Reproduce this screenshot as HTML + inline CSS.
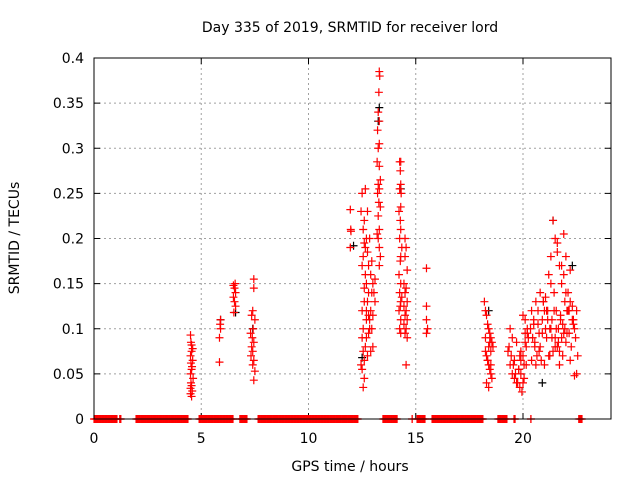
<!DOCTYPE html>
<html><head><meta charset="utf-8"><style>
body{margin:0;background:#fff}
svg{display:block;font-family:"DejaVu Sans","Liberation Sans",sans-serif}
</style></head><body>
<svg id="chart" width="640" height="480" viewBox="0 0 640 480" xmlns="http://www.w3.org/2000/svg">
<rect width="640" height="480" fill="#fff"/>
<text x="350" y="32" text-anchor="middle" font-size="14">Day 335 of 2019, SRMTID for receiver lord</text>
<text x="350" y="471" text-anchor="middle" font-size="14">GPS time / hours</text>
<text x="0" y="0" transform="translate(19,238) rotate(-90)" text-anchor="middle" font-size="14">SRMTID / TECUs</text>
<g id="grid"></g><g id="ticks"></g><g id="marks"></g>
<rect x="94" y="58" width="517" height="361" fill="none" stroke="#000" stroke-width="1"/>
</svg>
<script>
const xTicks=[0,5,10,15,20];
const yTicks=[0,0.05,0.1,0.15,0.2,0.25,0.3,0.35,0.4];
const yTickLabels=["0","0.05","0.1","0.15","0.2","0.25","0.3","0.35","0.4"];
const hours=[4.5,4.52,4.55,4.6,4.55,4.5,4.6,4.52,4.57,4.55,4.5,4.62,4.52,4.55,4.5,4.58,4.5,4.55,
5.85,5.85,5.9,5.88,5.9,
6.5,6.55,6.6,6.5,6.55,6.6,6.52,6.58,
7.45,7.45,7.4,7.35,7.5,7.42,7.3,7.38,7.45,7.35,7.4,7.32,7.45,7.4,7.5,7.45,
11.95,11.97,11.98,11.95,
12.5,12.5,12.45,12.5,12.55,12.55,12.6,12.6,12.65,12.5,12.55,12.6,12.65,12.7,12.75,12.8,12.7,12.75,12.8,12.85,12.7,12.65,12.75,12.6,12.55,12.7,12.8,12.9,12.9,12.95,13.0,12.9,12.6,12.65,12.75,12.85,12.95,13.0,13.05,13.1,13.0,12.45,12.5,12.55,12.7,12.85,12.6,12.8,12.95,13.1,
13.3,13.32,13.28,13.25,13.3,13.22,13.3,13.25,13.2,13.3,13.35,13.25,13.3,13.22,13.28,13.35,13.25,13.3,13.2,13.25,13.3,13.35,13.3,
14.25,14.3,14.28,14.3,14.25,14.32,14.3,14.22,14.28,14.3,14.25,14.35,14.3,14.28,14.22,14.3,14.25,14.35,14.3,14.28,14.22,14.3,14.25,14.3,
14.5,14.55,14.5,14.6,14.45,14.55,14.5,14.6,14.45,14.55,14.5,14.6,14.45,14.55,14.5,14.6,14.55,
15.5,15.5,15.5,15.55,15.5,
18.2,18.25,18.3,18.35,18.4,18.45,18.5,18.55,18.6,18.25,18.3,18.35,18.4,18.45,18.5,18.55,18.3,18.4,18.45,18.5,18.35,18.25,18.5,18.4,
19.3,19.4,19.5,19.6,19.7,19.8,19.9,20.0,20.1,20.2,19.35,19.45,19.55,19.65,19.75,19.85,19.95,20.05,20.15,20.25,19.4,19.6,19.8,19.9,20.0,20.1,20.2,19.7,19.9,20.05,20.15,19.5,19.85,20.0,20.1,
20.35,20.4,20.5,20.6,20.7,20.8,20.9,21.0,21.1,21.2,21.3,21.4,21.5,21.6,21.7,21.8,21.9,22.0,22.1,22.2,22.3,22.4,22.5,
20.45,20.55,20.65,20.75,20.85,20.95,21.05,21.15,21.25,21.35,21.45,21.55,21.65,21.75,21.85,21.95,22.05,22.15,22.25,22.35,22.45,22.55,
20.4,20.6,20.8,21.0,21.2,21.4,21.6,21.8,22.0,22.2,22.4,20.5,20.7,20.9,21.1,21.3,21.5,21.7,21.9,22.1,22.3,22.5,
20.55,20.75,20.95,21.15,21.35,21.55,21.75,21.95,22.15,22.35,21.05,21.25,21.45,21.65,21.85,22.05,21.5,21.7,21.9,21.3,21.6,21.8,22.0,22.2];
const tecValues=[0.093,0.085,0.082,0.078,0.075,0.07,0.065,0.062,0.058,0.055,0.05,0.045,0.04,0.037,0.034,0.031,0.028,0.025,
0.063,0.09,0.1,0.105,0.11,
0.148,0.145,0.14,0.135,0.13,0.125,0.118,0.15,
0.155,0.145,0.12,0.115,0.11,0.1,0.095,0.09,0.085,0.08,0.075,0.07,0.065,0.06,0.053,0.043,
0.232,0.21,0.208,0.19,
0.12,0.09,0.06,0.055,0.075,0.1,0.13,0.145,0.16,0.17,0.18,0.195,0.19,0.2,0.185,0.17,0.15,0.13,0.115,0.1,0.09,0.08,0.07,0.045,0.035,0.11,0.14,0.16,0.12,0.1,0.08,0.075,0.22,0.255,0.23,0.2,0.175,0.15,0.14,0.13,0.115,0.23,0.25,0.21,0.12,0.11,0.065,0.095,0.14,0.155,
0.385,0.38,0.362,0.34,0.33,0.32,0.305,0.3,0.285,0.28,0.265,0.26,0.255,0.25,0.24,0.235,0.225,0.21,0.205,0.2,0.19,0.18,0.17,
0.285,0.285,0.275,0.26,0.255,0.25,0.235,0.23,0.22,0.21,0.2,0.19,0.18,0.175,0.16,0.15,0.14,0.135,0.13,0.125,0.12,0.11,0.1,0.095,
0.2,0.19,0.18,0.165,0.15,0.145,0.14,0.13,0.125,0.12,0.115,0.11,0.105,0.1,0.095,0.09,0.06,
0.167,0.125,0.11,0.1,0.095,
0.13,0.12,0.115,0.105,0.1,0.095,0.09,0.085,0.08,0.075,0.07,0.065,0.06,0.055,0.05,0.045,0.04,0.035,0.085,0.075,0.065,0.09,0.06,0.08,
0.075,0.06,0.05,0.045,0.04,0.055,0.065,0.07,0.085,0.1,0.08,0.07,0.06,0.05,0.04,0.035,0.03,0.045,0.06,0.09,0.1,0.065,0.055,0.075,0.115,0.11,0.095,0.085,0.05,0.06,0.08,0.09,0.07,0.04,0.095,
0.1,0.12,0.11,0.13,0.105,0.14,0.095,0.12,0.09,0.16,0.15,0.22,0.2,0.185,0.17,0.15,0.16,0.14,0.12,0.13,0.11,0.1,0.05,
0.09,0.085,0.07,0.075,0.065,0.13,0.1,0.11,0.07,0.09,0.14,0.12,0.1,0.115,0.105,0.1,0.12,0.095,0.08,0.11,0.09,0.07,
0.065,0.06,0.08,0.06,0.07,0.075,0.08,0.09,0.085,0.065,0.048,0.105,0.12,0.11,0.12,0.1,0.09,0.06,0.095,0.14,0.125,0.12,
0.08,0.095,0.13,0.12,0.11,0.1,0.11,0.13,0.12,0.105,0.135,0.1,0.12,0.085,0.07,0.095,0.08,0.075,0.205,0.18,0.195,0.17,0.18,0.165];
const blackHours=[13.3,13.25,14.3,21.4,5.9,6.6,7.4,12.5,12.1,20.9,22.3,18.4];
const blackValues=[0.345,0.33,0.255,0.22,0.11,0.118,0.1,0.068,0.192,0.04,0.17,0.12];
const zeroRunStart=[0,1.2,1.96,4.9,6.8,7.65,13.47,14.83,15.06,15.76,18.83,19.58,20.37,22.6];
const zeroRunEnd=[1.07,1.25,4.38,6.48,7.13,12.3,14.13,14.83,15.43,18.13,19.25,19.63,20.37,22.75];

const NS="http://www.w3.org/2000/svg";
const X0=94,XS=21.45,Y0=419,YS=902.5;
function xs(h){return X0+h*XS;}
function ys(v){return Y0-v*YS;}
function mk(tag,attrs,parent){const e=document.createElementNS(NS,tag);for(const k in attrs)e.setAttribute(k,attrs[k]);parent.appendChild(e);return e;}
const grid=document.getElementById('grid'),ticks=document.getElementById('ticks'),marks=document.getElementById('marks');
yTicks.forEach((v,i)=>{
  const y=ys(v);
  if(v>0&&v<0.4){const g=mk('line',{x1:94,x2:611,y1:y,y2:y,stroke:'#a0a0a0','stroke-dasharray':'2,3'},grid);
    
    }
  mk('line',{x1:94,x2:100,y1:y,y2:y,stroke:'#000'},ticks);
  mk('line',{x1:605,x2:611,y1:y,y2:y,stroke:'#000'},ticks);
  const t=mk('text',{x:84,y:y+5,'text-anchor':'end','font-size':14},ticks);t.textContent=yTickLabels[i];
  
  
});
xTicks.forEach(h=>{
  const x=xs(h);
  if(h>0){const g=mk('line',{x1:x,x2:x,y1:58,y2:419,stroke:'#a0a0a0','stroke-dasharray':'2,3'},grid);
    
    }
  mk('line',{x1:x,x2:x,y1:413,y2:419,stroke:'#000'},ticks);
  mk('line',{x1:x,x2:x,y1:58,y2:64,stroke:'#000'},ticks);
  const t=mk('text',{x:x,y:443,'text-anchor':'middle','font-size':14},ticks);t.textContent=String(h);
  
  
});
function cross(h,v,color,name){
  const x=xs(h),y=ys(v);
  const p=mk('path',{d:`M${x-4},${y}h8M${x},${y-4}v8`,stroke:color,'stroke-width':1.2,fill:'none'},marks);
  
  
}
blackHours.forEach((h,i)=>cross(h,blackValues[i],'#000','black-point'));
hours.forEach((h,i)=>cross(h,tecValues[i],'#f00','srmtid-point'));
zeroRunStart.forEach((s,i)=>{
  for(let h=s;h<=zeroRunEnd[i]+1e-9;h+=0.04)cross(h,0,'#f00','zero-point');
  cross(zeroRunEnd[i],0,'#f00','zero-point');
});
</script>
</body></html>
